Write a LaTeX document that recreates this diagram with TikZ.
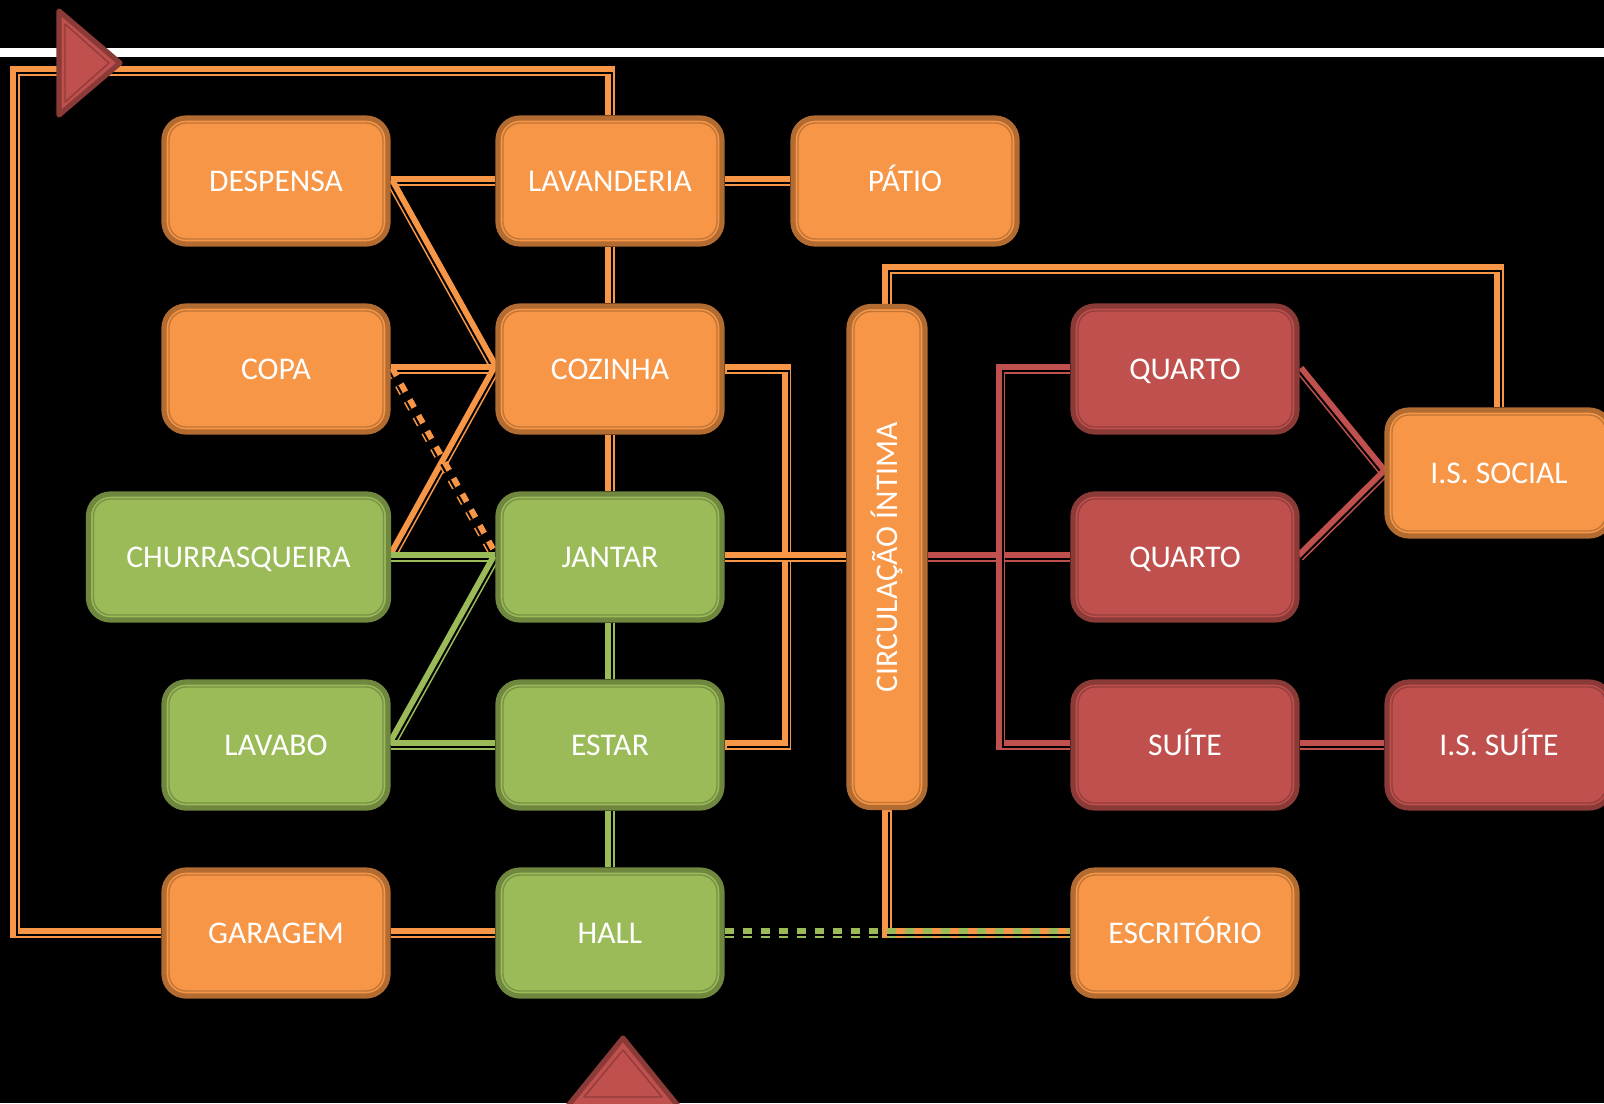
\documentclass[tikz,border=0pt]{standalone}
\usepackage{fontspec}
\setmainfont{Carlito}
\usepackage{graphicx}
\usetikzlibrary{calc}
\definecolor{org}{HTML}{F79646}
\definecolor{grn}{HTML}{9BBB59}
\definecolor{rd}{HTML}{C0504D}
\pgfdeclarelayer{bg}
\pgfdeclarelayer{conn}
\pgfsetlayers{bg,conn,main}
\tikzset{
  box/.style={rounded corners=11pt, minimum width=112pt, minimum height=63pt,
    line width=2.6pt, text=white, font=\fontsize{15.8}{19}\selectfont, inner sep=0pt,
    fill=#1, draw=#1!72!black,
    path picture={\draw[#1!78!black, line width=0.7pt, rounded corners=8.5pt]
      ([shift={(2.5pt,-2.5pt)}]path picture bounding box.north west) rectangle
      ([shift={(-2.5pt,2.5pt)}]path picture bounding box.south east);}},
  lbl/.style={text height=10.2pt, text depth=0pt},
  obox/.style={box=org, lbl},
  gbox/.style={box=grn, lbl},
  rbox/.style={box=rd, lbl},
  tt/.style={line width=4.8pt},
  ttgap/.style={line width=1pt},
  oc/.style={draw=org},
  gc/.style={draw=grn},
  rc/.style={draw=rd},
  dashd/.style={dash pattern=on 4.5pt off 4.5pt},
  tri/.style={fill=rd, draw=rd!72!black, line width=2.6pt, line join=round},
  triin/.style={draw=rd!75!black, line width=0.7pt, line join=round},
}
% thick-thin connector: #1 options, #2 shift of the dark gap, #3 path
\newcommand\cTT[3][]{%
  \draw[tt, #1] #3;
  \draw[ttgap, #1, draw=black, transform canvas={shift={#2}}] #3;}
\begin{document}
\begin{tikzpicture}[x=0.5pt, y=-0.5pt]
\useasboundingbox (0,0) rectangle (1604,1103);
\begin{pgfonlayer}{bg}
  \fill[black] (0,0) rectangle (1604,1103);
  \fill[white] (0,48) rectangle (1604,57);
\end{pgfonlayer}
\clip (0,0) rectangle (1604,1103);

% nodes
\node[obox] (desp) at (276,181) {DESPENSA};
\node[obox] (lav) at (610,181) {LAVANDERIA};
\node[obox] (pat) at (905,181) {PÁTIO};
\node[obox] (copa) at (276,369) {COPA};
\node[obox] (coz) at (610,369) {COZINHA};
\node[gbox, minimum width=150pt] (churr) at (238.5,557) {CHURRASQUEIRA};
\node[gbox] (jan) at (610,557) {JANTAR};
\node[gbox] (lavabo) at (276,745) {LAVABO};
\node[gbox] (estar) at (610,745) {ESTAR};
\node[obox] (gar) at (276,933) {GARAGEM};
\node[gbox] (hall) at (610,933) {HALL};
\node[box=org, minimum width=38pt, minimum height=250.5pt] (circ) at (887,557) {\rotatebox{90}{CIRCULAÇÃO ÍNTIMA}};
\node[rbox] (q1) at (1185,369) {QUARTO};
\node[rbox] (q2) at (1185,557) {QUARTO};
\node[rbox] (suite) at (1185,745) {SUÍTE};
\node[obox] (escr) at (1185,933) {ESCRITÓRIO};
\node[obox] (issoc) at (1499,473) {I.S. SOCIAL};
\node[rbox] (issuite) at (1499,745) {I.S. SUÍTE};

% connectors
\begin{pgfonlayer}{conn}
  \cTT[oc]{(1.1pt,-1.1pt)}{(gar.west) -| (15,71) -| (lav.north)}
  \cTT[oc]{(0,-1.1pt)}{(desp.east) -- (lav.west)}
  \cTT[oc]{(0,-1.1pt)}{(lav.east) -- (pat.west)}
  \cTT[oc]{(1.1pt,0)}{(lav.south) -- (coz.north)}
  \cTT[oc]{(-0.96pt,-0.53pt)}{(desp.east) -- (coz.west)}
  \cTT[oc]{(0,-1.1pt)}{(copa.east) -- (coz.west)}
  \cTT[oc]{(0.96pt,-0.53pt)}{(churr.east) -- (coz.west)}
  \cTT[oc, dashd]{(-0.96pt,-0.53pt)}{(copa.east) -- (jan.west)}
  \cTT[gc]{(0,-1.1pt)}{(churr.east) -- (jan.west)}
  \cTT[gc]{(0.96pt,-0.53pt)}{(lavabo.east) -- (jan.west)}
  \cTT[gc]{(0,-1.1pt)}{(lavabo.east) -- (estar.west)}
  \cTT[oc]{(1.1pt,0)}{(coz.south) -- (jan.north)}
  \cTT[gc]{(1.1pt,0)}{(jan.south) -- (estar.north)}
  \cTT[gc]{(1.1pt,0)}{(estar.south) -- (hall.north)}
  \cTT[oc]{(0,-1.1pt)}{(gar.east) -- (hall.west)}
  \cTT[oc]{(1.1pt,-1.1pt)}{(coz.east) -- ++(62,0) |- (estar.east)}
  \cTT[oc]{(0,-1.1pt)}{(jan.east) -- (circ.west)}
  \cTT[rc]{(0,-1.1pt)}{(circ.east |- q2.west) -- (q2.west)}
  \cTT[rc]{(1.1pt,-1.1pt)}{(q1.west) -- ++(-70,0) |- (suite.west)}
  \cTT[oc]{(1.1pt,-1.1pt)}{(circ.north) -- ++(0,-35) -| (issoc.north)}
  \cTT[rc]{(-0.87pt,-0.68pt)}{(q1.east) -- (issoc.west)}
  \cTT[rc]{(0.79pt,-0.76pt)}{(q2.east) -- (issoc.west)}
  \cTT[rc]{(0,-1.1pt)}{(suite.east) -- (issuite.west)}
  \cTT[oc]{(1.1pt,-1.1pt)}{(circ.south) |- (escr.west)}
  \cTT[gc, dashd]{(0,-1.1pt)}{(hall.east) -- (escr.west)}
\end{pgfonlayer}

% triangles
\draw[tri] (59,11) -- (59,115) -- (120,63) -- cycle;
\draw[triin] (65,24) -- (65,102) -- (109,63) -- cycle;
\draw[tri] (623,1038) -- (563,1112) -- (683,1112) -- cycle;
\draw[triin] (623,1050) -- (584,1097) -- (662,1097) -- cycle;
\end{tikzpicture}
\end{document}
